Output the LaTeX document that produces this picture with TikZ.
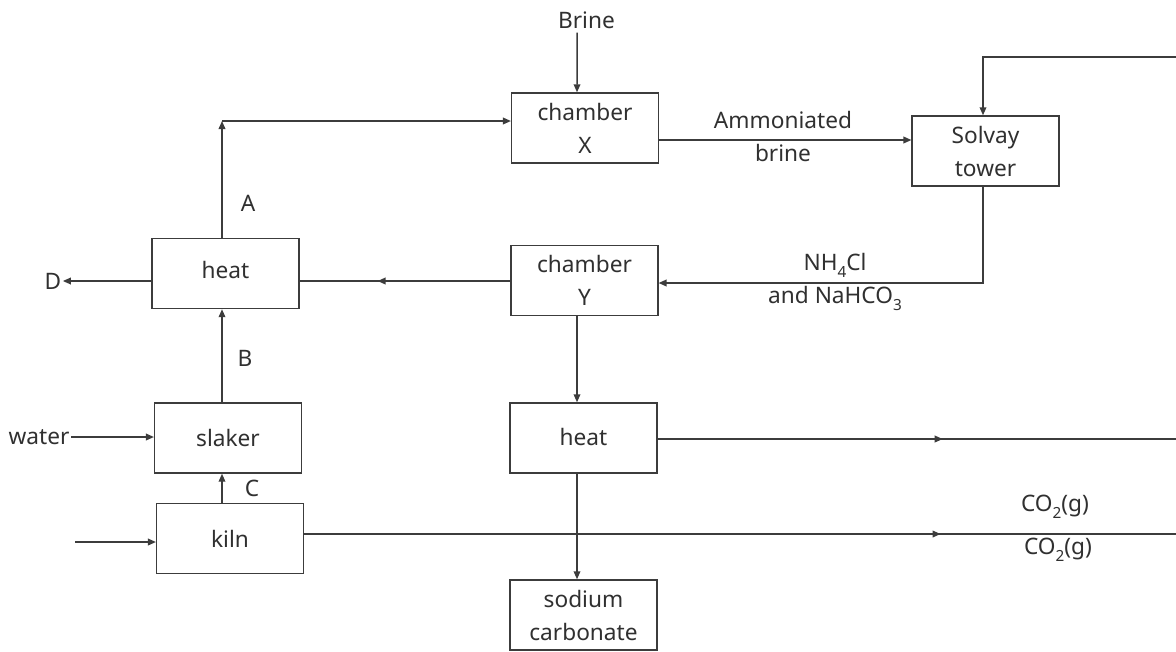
\documentclass[tikz,border=0pt]{standalone}
\usepackage{fontspec}
\setmainfont{Noto Sans}
\usetikzlibrary{arrows.meta,decorations.markings}
\definecolor{ink}{HTML}{3C3C3C}
\definecolor{txt}{HTML}{303030}
\newcommand\chemsub[1]{\raisebox{-0.32em}{\fontsize{11.5}{11.5}\selectfont #1}}
\begin{document}
\begin{tikzpicture}[x=0.75pt,y=-0.75pt,
  every node/.style={text=txt, font=\fontsize{17}{24.75}\selectfont},
  box/.style={draw=ink, line width=1.1pt, minimum width=110pt, minimum height=52.5pt, inner sep=0pt, align=center},
  lbl/.style={inner sep=1pt, align=center},
  conn/.style={draw=ink, line width=1.1pt},
  arr/.style={conn, -{Triangle[length=6pt,width=5pt]}},
  midarr/.style={conn, postaction={decorate},
    decoration={markings, mark=at position #1 with {\arrow{Triangle[length=6pt,width=5pt]}}}}
]
\useasboundingbox (0,0) rectangle (1176,651);

% boxes
\node[box] (chX)    at (585,128)   {chamber\\X};
\node[box] (solvay) at (985.5,151) {Solvay\\tower};
\node[box] (chY)    at (584.5,280.5) {chamber\\Y};
\node[box] (heatL)  at (225.5,273.5) {\raisebox{6pt}{heat}};
\node[box] (slaker) at (228,438)   {slaker};
\node[box] (kiln)   at (230,538.5) {kiln};
\node[box] (heatM)  at (583.5,438) {\raisebox{2pt}{heat}};
\node[box] (soda)   at (583.5,615) {sodium\\carbonate};

% labels
\node[lbl] (brine) at (586.5,20) {Brine};
\node[lbl] (ammon) at (783,136) {Ammoniated\\brine};
\node[lbl] (nh) at (835,282) {NH\chemsub{4}Cl\\and NaHCO\chemsub{3}};
\node[lbl] (D) at (53,281) {D};
\node[lbl] (water) at (39,437) {water};
\node[lbl] (A) at (248,203) {A};
\node[lbl] (B) at (245,358) {B};
\node[lbl] (C) at (252,488) {C};
\node[lbl] (co2a) at (1055,507) {CO\chemsub{2}(g)};
\node[lbl] (co2b) at (1058,550) {CO\chemsub{2}(g)};

% helper coordinates
\coordinate (cA) at (222,121);
\coordinate (bx) at (577,0);
\coordinate (sx) at (983,0);
\coordinate (am) at (0,140);
\coordinate (ny) at (0,283);
\coordinate (ly) at (0,281);
\coordinate (tl) at (1176,57);
\coordinate (kin) at (75,542);
\coordinate (kout) at (1176,534);
\coordinate (hout) at (1176,439);

% connectors
\draw[arr] ([xshift=-7pt,yshift=-2pt]brine.south) -- (chX.north -| bx);
\draw[arr] (heatL.north -| cA) -- (cA);
\draw[arr] (cA) -- (chX.west |- cA);
\draw[arr] (chX.east |- am) -- (solvay.west |- am);
\draw[arr] (tl) -| (solvay.north -| sx);
\draw[arr] (solvay.south -| sx) |- (chY.east |- ny);
\draw[midarr=0.63] (chY.west |- ly) -- (heatL.east |- ly);
\draw[arr] (heatL.west |- ly) -- (D.east);
\draw[arr] (slaker.north -| cA) -- (heatL.south -| cA);
\draw[arr] (water.east) -- (slaker.west |- water.east);
\draw[arr] (kiln.north -| cA) -- (slaker.south -| cA);
\draw[arr] (kin) -- (kiln.west |- kin);
\draw[midarr=0.73] (kiln.east |- kout) -- (kout);
\draw[arr] (chY.south -| bx) -- (heatM.north -| bx);
\draw[midarr=0.55] (heatM.east |- hout) -- (hout);
\draw[arr] (heatM.south -| bx) -- (soda.north -| bx);
\end{tikzpicture}
\end{document}
